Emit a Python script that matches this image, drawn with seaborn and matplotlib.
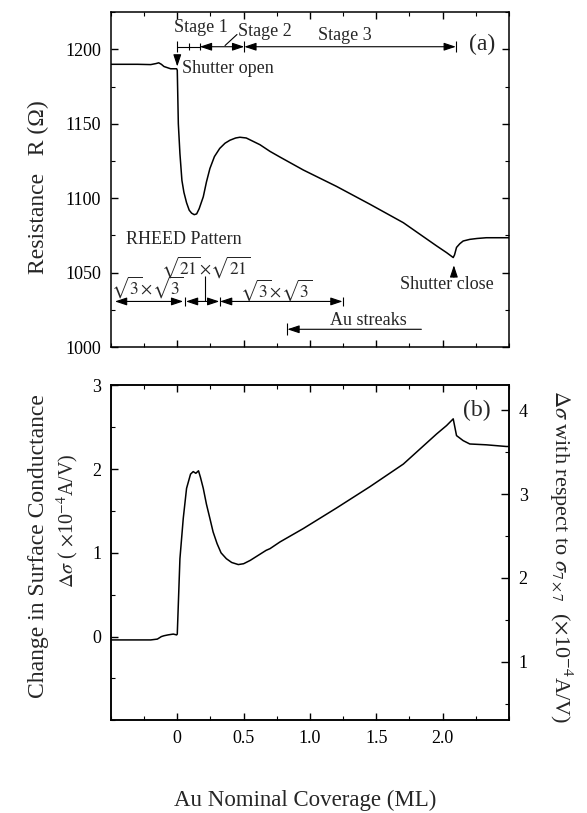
import matplotlib
matplotlib.use("Agg")
import numpy as np
import pandas as pd
import seaborn as sns
import matplotlib.pyplot as plt
from matplotlib.ticker import MultipleLocator

# (a) resistance during Au deposition
coverage_a = [-0.5, -0.3, -0.2, -0.16, -0.14, -0.12, -0.1, -0.05, -0.005, 0.0,
              0.008, 0.02, 0.035, 0.05, 0.07, 0.09, 0.108, 0.128, 0.146, 0.165,
              0.196, 0.22, 0.246, 0.28, 0.32, 0.36, 0.397, 0.44, 0.472, 0.52,
              0.623, 0.699, 0.774, 0.95, 1.2, 1.452, 1.704, 1.955, 2.03, 2.08,
              2.09, 2.105, 2.13, 2.155, 2.205, 2.26, 2.33, 2.5]
resistance = [1190, 1190, 1189.8, 1190.5, 1191, 1190, 1188.5, 1187, 1187, 1186,
              1150, 1130, 1112, 1104, 1097, 1092, 1090, 1089, 1089.5, 1093,
              1101, 1111, 1120, 1128, 1133.5, 1137, 1139, 1140.5, 1141, 1140.5,
              1136, 1131.5, 1127.7, 1119, 1108, 1096, 1083.6, 1068, 1063.5, 1060.2,
              1062, 1067, 1069.5, 1071.3, 1072.4, 1073, 1073.5, 1073.5]

# (b) change in surface conductance
coverage_b = [-0.5, -0.3, -0.2, -0.15, -0.12, -0.1, -0.07, -0.03, -0.005, 0.0,
              0.02, 0.045, 0.07, 0.1, 0.12, 0.14, 0.16, 0.175, 0.196, 0.22,
              0.246, 0.27, 0.3, 0.33, 0.37, 0.41, 0.46, 0.5, 0.55, 0.6,
              0.67, 0.699, 0.774, 0.95, 1.2, 1.452, 1.704, 1.955, 2.03, 2.08,
              2.09, 2.105, 2.155, 2.205, 2.33, 2.48, 2.5]
delta_sigma = [-0.04, -0.04, -0.04, -0.03, 0.0, 0.01, 0.02, 0.03, 0.02, 0.03,
               0.93, 1.41, 1.77, 1.94, 1.97, 1.95, 1.98, 1.9, 1.77, 1.58,
               1.41, 1.25, 1.11, 1.0, 0.93, 0.885, 0.86, 0.87, 0.91, 0.96,
               1.03, 1.05, 1.13, 1.29, 1.535, 1.79, 2.06, 2.42, 2.52, 2.6,
               2.52, 2.4, 2.34, 2.3, 2.29, 2.27, 2.27]

# offset between left axis and the right axis (w.r.t. sigma 7x7)
sigma_7x7_offset = 1.3

x_ticks = [0, 0.5, 1.0, 1.5, 2.0]
x_tick_labels = ["0", "0.5", "1.0", "1.5", "2.0"]

df_a = pd.DataFrame({"coverage": coverage_a, "resistance": resistance})
df_b = pd.DataFrame({"coverage": coverage_b, "dsigma": delta_sigma})

sns.set_theme(style="ticks")
plt.rcParams["font.family"] = ["Liberation Serif", "DejaVu Serif"]
plt.rcParams["mathtext.fontset"] = "stix"

fig = plt.figure(figsize=(5.87, 8.13), dpi=100)
ax1 = fig.add_axes([0.189, 0.573, 0.678, 0.412])
ax2 = fig.add_axes([0.189, 0.114, 0.678, 0.412])

sns.lineplot(data=df_a, x="coverage", y="resistance", ax=ax1, color="black",
             linewidth=1.1, estimator=None, sort=False)
sns.lineplot(data=df_b, x="coverage", y="dsigma", ax=ax2, color="black",
             linewidth=1.1, estimator=None, sort=False)

# axes limits / ticks
for ax in (ax1, ax2):
    ax.set_xlim(-0.5, 2.5)
    ax.set_xticks(x_ticks)
    ax.xaxis.set_minor_locator(MultipleLocator(0.25))
    ax.tick_params(which="both", direction="in", top=True, colors="black",
                   labelsize=13, pad=7)
    ax.tick_params(which="major", length=5, width=1)
    ax.tick_params(which="minor", length=3, width=0.8)
    for sp in ax.spines.values():
        sp.set_color("black")
        sp.set_linewidth(1.1)
    ax.set_xlabel("")
    ax.set_ylabel("")

ax1.set_ylim(1000, 1225)
ax1.set_yticks([1000, 1050, 1100, 1150, 1200])
ax1.yaxis.set_minor_locator(MultipleLocator(25))
ax1.tick_params(which="both", right=True)
ax1.set_xticklabels([])

ax2.set_ylim(-1, 3)
ax2.set_yticks([0, 1, 2, 3])
ax2.yaxis.set_minor_locator(MultipleLocator(0.5))
ax2.set_xticklabels(x_tick_labels)

ax3 = ax2.twinx()
ax3.set_ylim(-1 + sigma_7x7_offset, 3 + sigma_7x7_offset)
ax3.set_yticks([1, 2, 3, 4])
ax3.yaxis.set_minor_locator(MultipleLocator(0.5))
ax3.tick_params(which="both", direction="in", colors="black", labelsize=13, pad=7)
ax3.tick_params(which="major", length=6, width=1)
ax3.tick_params(which="minor", length=3, width=0.8)
for sp in ax3.spines.values():
    sp.set_color("black")
    sp.set_linewidth(1.1)

# labels
fig.text(0.065, 0.77, "Resistance   R (\u03a9)", rotation=90, ha="center",
         va="center", fontsize=17)
fig.text(0.065, 0.328, "Change in Surface Conductance", rotation=90,
         ha="center", va="center", fontsize=17)
fig.text(0.116, 0.36, r"$\Delta\sigma$ ( $\times$10$^{-4}$A/V)", rotation=90,
         ha="center", va="center", fontsize=14.5)
fig.text(0.955, 0.316,
         r"$\Delta\sigma$ with respect to $\sigma_{7\times7}$  ($\times$10$^{-4}$A/V)",
         rotation=270, ha="center", va="center", fontsize=16)
fig.text(0.52, 0.016, "Au Nominal Coverage (ML)", ha="center", va="center",
         fontsize=16.5)

ax1.text(2.30, 1203.5, "(a)", ha="center", va="center", fontsize=17)
ax2.text(2.26, 2.70, "(b)", ha="center", va="center", fontsize=17)

arrow2 = dict(arrowstyle="<|-|>,head_length=0.6,head_width=0.2", color="black",
              lw=0.8, shrinkA=0, shrinkB=0)
arrow1 = dict(arrowstyle="-|>,head_length=0.6,head_width=0.2", color="black",
              lw=0.8, shrinkA=0, shrinkB=0)

# growth stages
y_st = 1201.8
ax1.plot([0.0, 0.17], [y_st, y_st], color="black", lw=0.8)
ax1.vlines([0.0], 1198, 1205.5, color="black", lw=0.8)
ax1.vlines([0.09, 0.17], 1199.5, 1204.5, color="black", lw=0.8)
ax1.vlines([0.505, 2.10], 1198, 1205.5, color="black", lw=0.8)
ax1.annotate("", xy=(0.17, y_st), xytext=(0.505, y_st), arrowprops=arrow2)
ax1.annotate("", xy=(0.505, y_st), xytext=(2.10, y_st), arrowprops=arrow2)
ax1.plot([0.36, 0.45], [1202.6, 1210], color="black", lw=0.8)
ax1.text(0.176, 1214.5, "Stage 1", ha="center", va="center", fontsize=13)
ax1.text(0.46, 1212, "Stage 2", ha="left", va="center", fontsize=13)
ax1.text(1.26, 1209.5, "Stage 3", ha="center", va="center", fontsize=13)

# shutter
ax1.annotate("", xy=(0.0, 1188.5), xytext=(0.0, 1196), arrowprops=arrow1)
ax1.text(0.035, 1187, "Shutter open", ha="left", va="center", fontsize=13)
ax1.annotate("", xy=(2.085, 1055), xytext=(2.085, 1047), arrowprops=arrow1)
ax1.text(2.03, 1042, "Shutter close", ha="center", va="center", fontsize=13)

# RHEED pattern
y_rh = 1030.7
ax1.text(-0.39, 1072.4, "RHEED Pattern", ha="left", va="center", fontsize=13)
ax1.annotate("", xy=(-0.47, y_rh), xytext=(0.045, y_rh), arrowprops=arrow2)
ax1.annotate("", xy=(0.065, y_rh), xytext=(0.317, y_rh), arrowprops=arrow2)
ax1.annotate("", xy=(0.322, y_rh), xytext=(1.246, y_rh), arrowprops=arrow2)
ax1.vlines([0.058, 0.32, 1.246], 1027.5, 1034, color="black", lw=0.8)
ax1.vlines([0.21], y_rh, 1048, color="black", lw=0.8)
ax1.text(-0.23, 1040.5, r"$\sqrt{3}\!\times\!\sqrt{3}$", ha="center",
         va="center", fontsize=12.5)
ax1.text(0.216, 1054, r"$\sqrt{21}\!\times\!\sqrt{21}$", ha="center",
         va="center", fontsize=12.5)
ax1.text(0.744, 1038.5, r"$\sqrt{3}\!\times\!\sqrt{3}$", ha="center",
         va="center", fontsize=12.5)

# Au streaks
y_au = 1012
ax1.vlines([0.824], 1008, 1016, color="black", lw=0.8)
ax1.annotate("", xy=(0.83, y_au), xytext=(1.84, y_au), arrowprops=arrow1)
ax1.text(1.44, 1018, "Au streaks", ha="center", va="center", fontsize=13)

fig.savefig("out.png", dpi=100)
